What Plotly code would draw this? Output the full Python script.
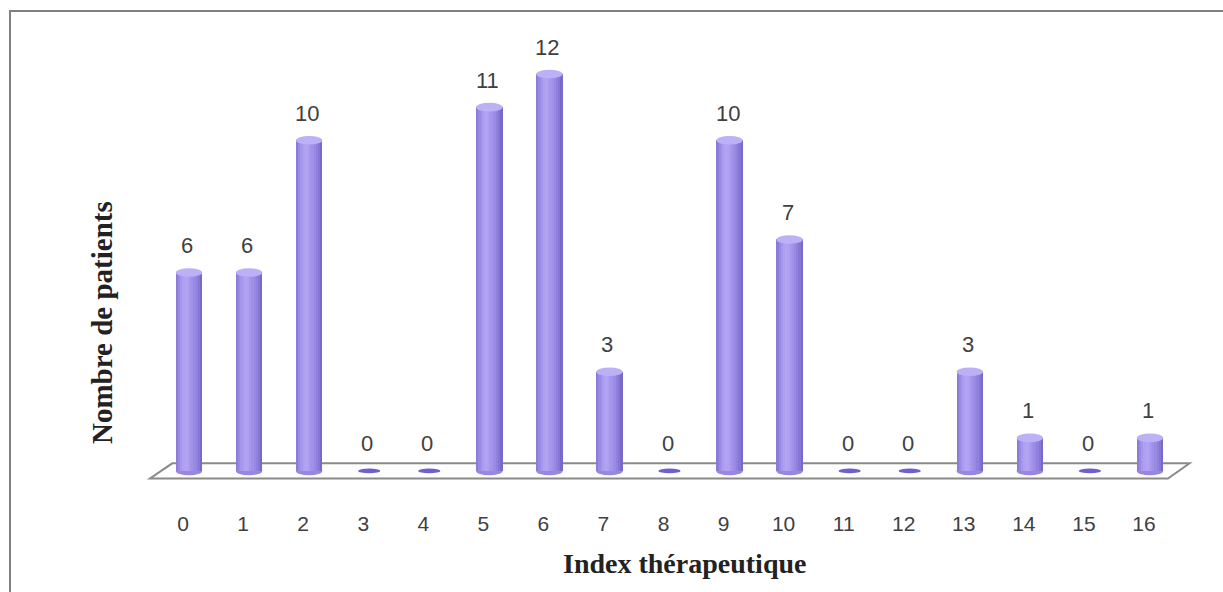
import plotly.graph_objects as go

# Data: number of patients for each therapeutic index value
index_values = list(range(17))
tick_labels = [str(i) for i in index_values]
patients = [6, 6, 10, 0, 0, 11, 12, 3, 0, 10, 7, 0, 0, 3, 1, 0, 1]

# Page geometry (pixels)
FIG_W, FIG_H = 1223, 592
M_L, M_R, M_T, M_B = 141, 25, 41, 88
PLOT_W = FIG_W - M_L - M_R
PLOT_H = FIG_H - M_T - M_B


def px_x(px):
    return (px - M_L) / PLOT_W


def px_y(py):
    return (FIG_H - M_B - py) / PLOT_H


BAR_W = 0.44
# vertical strips giving the cylinder its shading (left -> right)
strip_colors = ["#8c7cda", "#9a8ae4", "#a696ec", "#af9ff1", "#b3a4f3",
                "#afa0f1", "#a797ec", "#a090e8", "#9989e4", "#9181de",
                "#8777d4", "#7a6ac8"]
n_strips = len(strip_colors)

fig = go.Figure()

for k, col in enumerate(strip_colors):
    fig.add_trace(go.Bar(
        x=index_values, y=patients,
        width=BAR_W / n_strips * 1.05,
        offset=-BAR_W / 2 + k * BAR_W / n_strips,
        marker=dict(color=col, line=dict(width=0)),
        hoverinfo="skip", showlegend=False,
    ))

shapes = []
# outer frame of the chart
shapes.append(dict(type="rect", xref="paper", yref="paper",
                   x0=px_x(10), x1=px_x(1240), y0=px_y(610), y1=px_y(11),
                   line=dict(color="#808080", width=2), layer="below"))
# floor of the 3D chart
shapes.append(dict(type="path", xref="x", yref="y",
                   path="M -0.65,-0.23 L 16.30,-0.23 L 16.66,0.23 L -0.28,0.23 Z",
                   fillcolor="#fdfdfd", line=dict(color="#8a8a8a", width=2),
                   layer="below"))

CAP_H = 0.13
for i, v in zip(index_values, patients):
    if v > 0:
        # rounded bottom of the cylinder
        shapes.append(dict(type="circle", xref="x", yref="y",
                           x0=i - BAR_W / 2, x1=i + BAR_W / 2,
                           y0=-CAP_H, y1=CAP_H,
                           fillcolor="#9787e2", line=dict(width=0),
                           layer="below"))
        # top cap
        shapes.append(dict(type="circle", xref="x", yref="y",
                           x0=i - BAR_W / 2, x1=i + BAR_W / 2,
                           y0=v - CAP_H, y1=v + CAP_H,
                           fillcolor="#bcb0f6", line=dict(width=0)))
    else:
        # empty category: flat disc lying on the floor
        shapes.append(dict(type="circle", xref="x", yref="y",
                           x0=i - BAR_W * 0.42, x1=i + BAR_W * 0.42,
                           y0=-0.07, y1=0.07,
                           fillcolor="#6e5fcf", line=dict(width=0)))

annotations = []
for i, v in zip(index_values, patients):
    annotations.append(dict(x=i, y=v, xref="x", yref="y", text=str(v),
                            showarrow=False, yanchor="middle", yshift=27,
                            xshift=-2,
                            font=dict(family="Liberation Sans", size=22,
                                      color="#404040")))

annotations.append(dict(x=px_x(684), y=px_y(563), xref="paper", yref="paper",
                        text="<b>Index thérapeutique</b>", showarrow=False,
                        xanchor="center", yanchor="middle",
                        font=dict(family="Liberation Serif", size=28,
                                  color="#222222")))
annotations.append(dict(x=px_x(102), y=px_y(323), xref="paper", yref="paper",
                        text="<b>Nombre de patients</b>", showarrow=False,
                        textangle=-90, xanchor="center", yanchor="middle",
                        font=dict(family="Liberation Serif", size=29,
                                  color="#222222")))

fig.update_layout(
    width=FIG_W, height=FIG_H,
    margin=dict(l=M_L, r=M_R, t=M_T, b=M_B, autoexpand=False),
    paper_bgcolor="white", plot_bgcolor="rgba(0,0,0,0)",
    barmode="overlay", bargap=0,
    shapes=shapes, annotations=annotations,
    xaxis=dict(range=[-0.8, 16.8], tickmode="array", tickvals=index_values,
               ticktext=tick_labels, showgrid=False, zeroline=False,
               showline=False, ticks="", ticklabelshift=-6,
               ticklabelstandoff=5,
               tickfont=dict(family="Liberation Sans", size=21,
                             color="#404040")),
    yaxis=dict(range=[-1, 13], showgrid=False, zeroline=False,
               showline=False, showticklabels=False, ticks=""),
)

fig.write_html("out.html")
